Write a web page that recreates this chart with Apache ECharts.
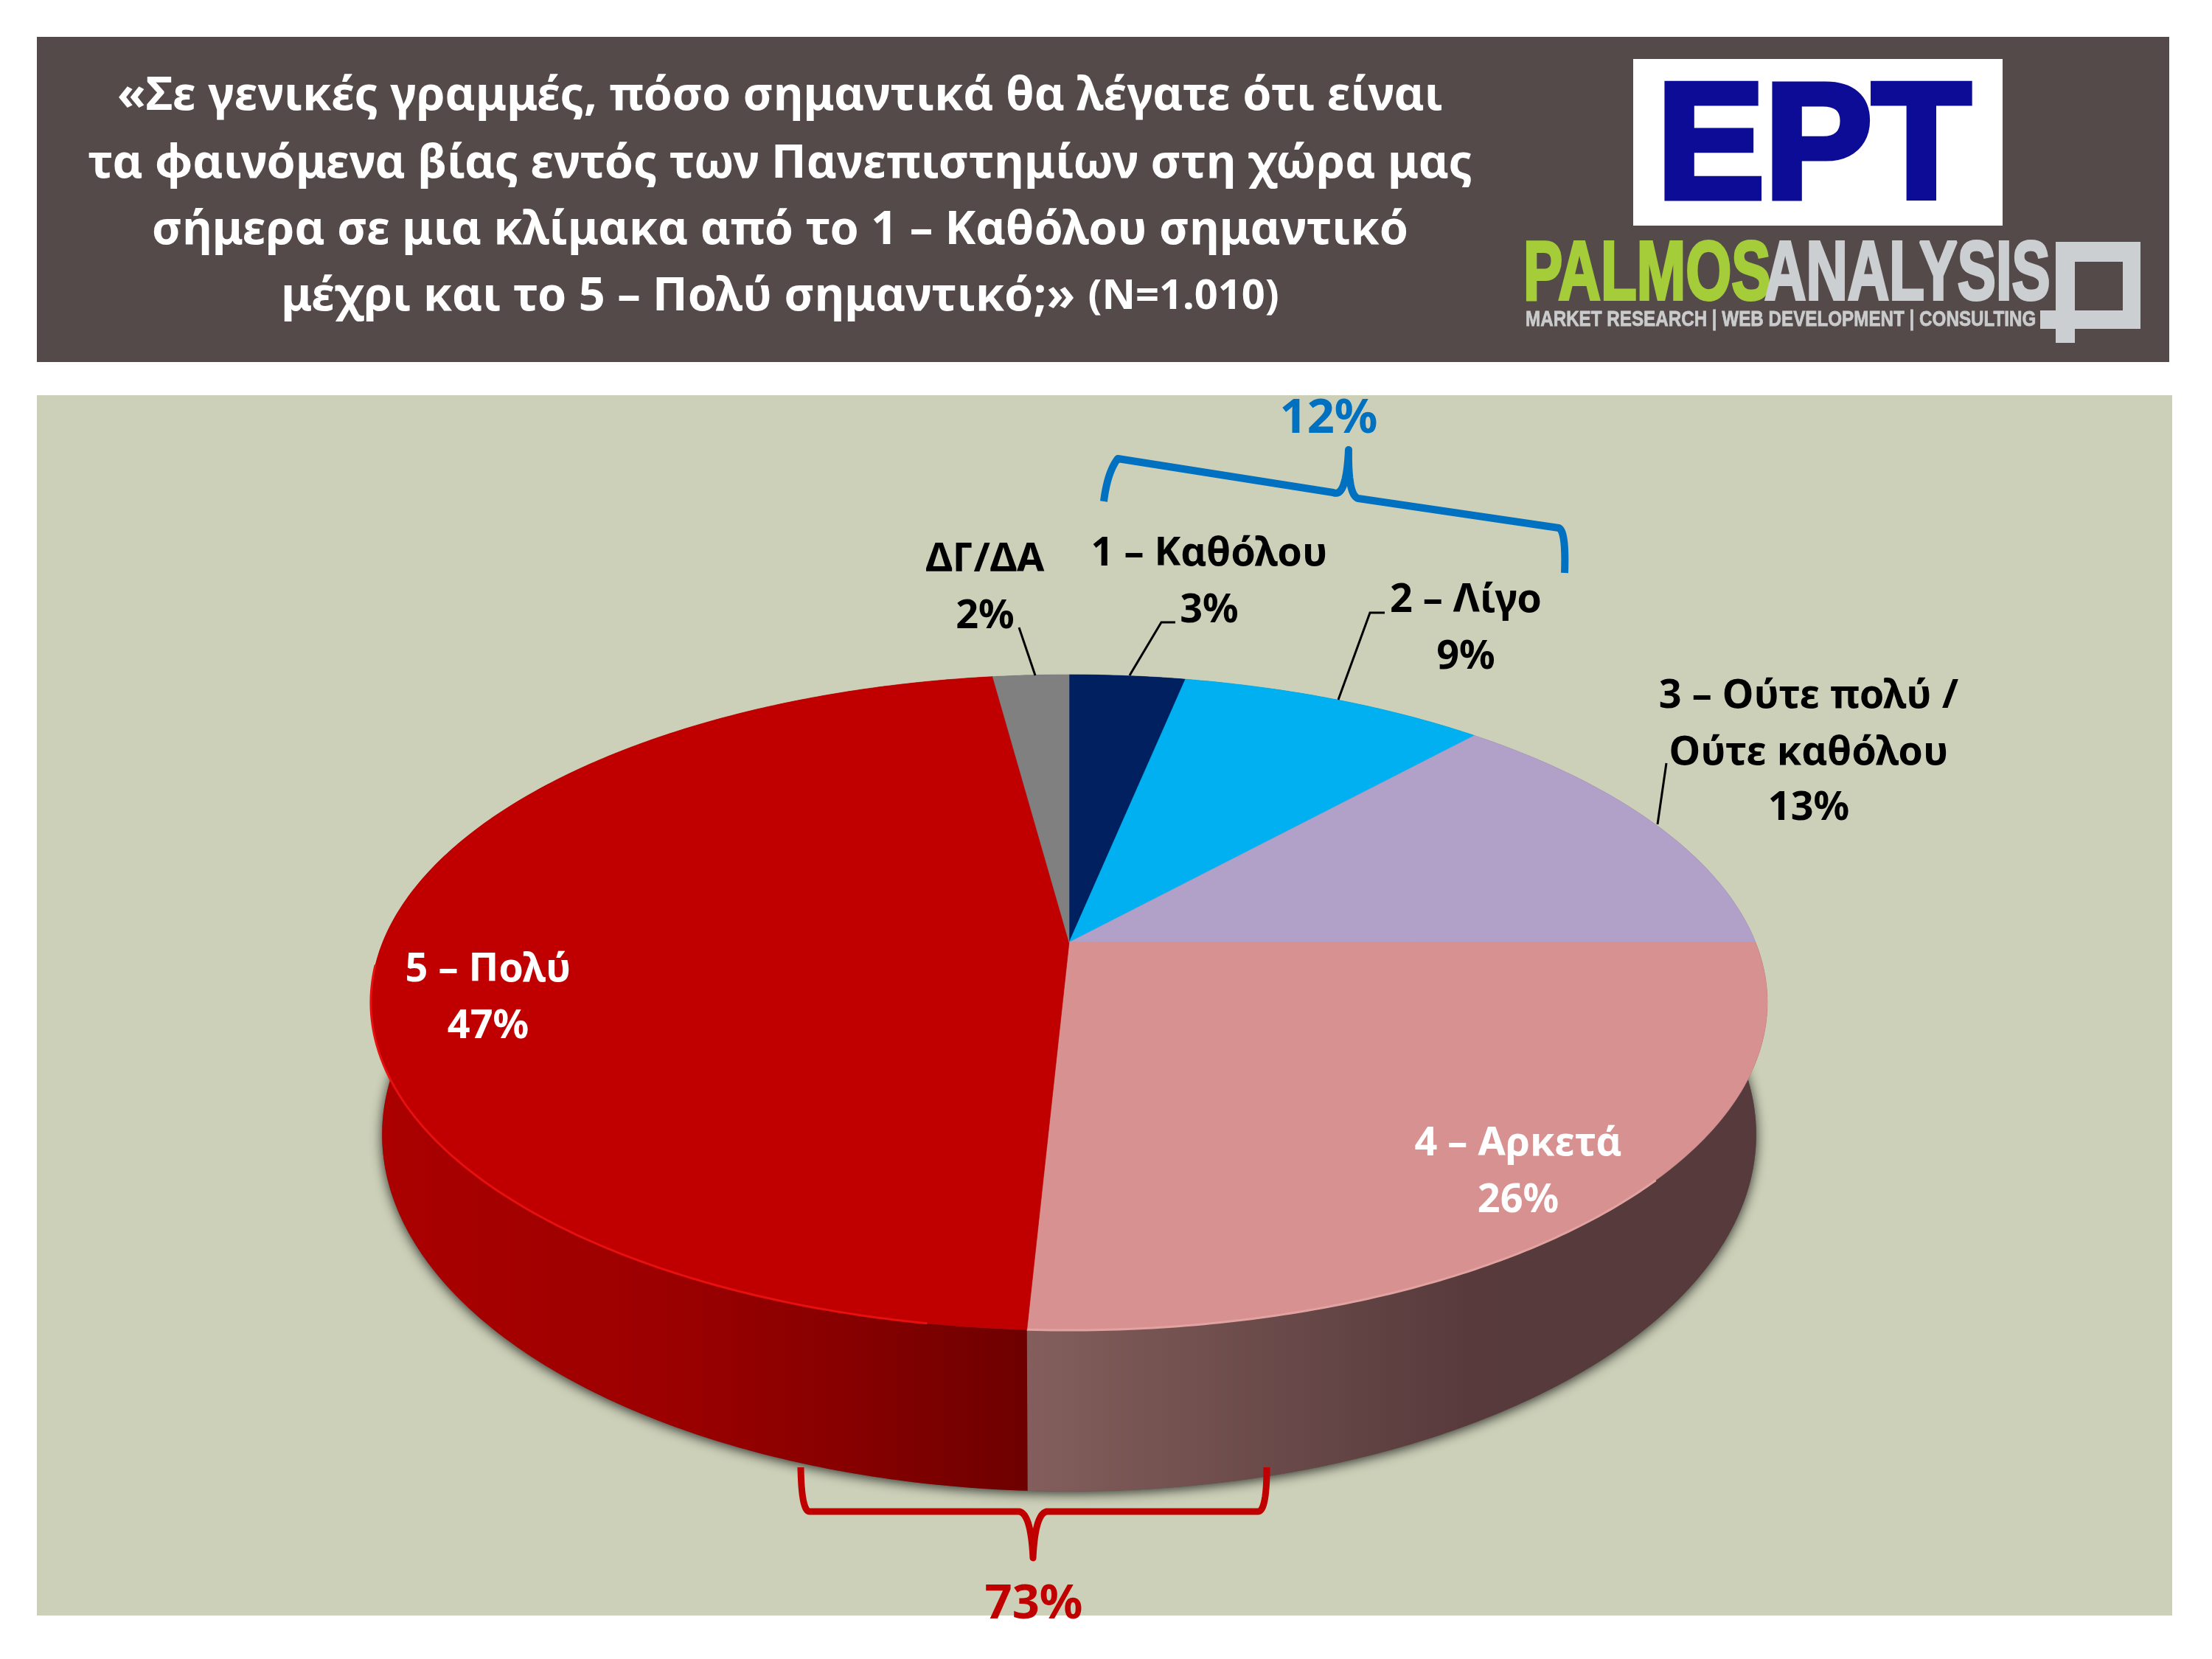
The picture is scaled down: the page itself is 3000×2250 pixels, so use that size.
<!DOCTYPE html>
<html><head><meta charset="utf-8">
<style>html,body{margin:0;padding:0;background:#fff}#c{width:3000px;height:2250px}</style>
<script src="https://cdn.jsdelivr.net/npm/echarts@6/dist/echarts.min.js"></script>
</head><body><div id="c"></div>
<script>
// ---- data ----
const categories = ['1 – Καθόλου','2 – Λίγο','3 – Ούτε πολύ /\nΟύτε καθόλου','4 – Αρκετά','5 – Πολύ','ΔΓ/ΔΑ'];
const values = [3.2, 8.5, 13.3, 25.8, 47.1, 2.1];
const titleLines = ['«Σε γενικές γραμμές, πόσο σημαντικά θα λέγατε ότι είναι','τα φαινόμενα βίας εντός των Πανεπιστημίων στη χώρα μας','σήμερα σε μια κλίμακα από το 1 – Καθόλου σημαντικό','μέχρι και το 5 – Πολύ σημαντικό;»'];
const sampleNote = '(N=1.010)';
const groupLabels = ['12%','73%'];

// ---- styling and layout ----
const FONT = '"Noto Sans","Open Sans",sans-serif';
const topColors = ['#002060','#00B0F0','#B1A0C7','#D79190','#C00000','#808080'];
const sideStops = [
  ['#001030','#001030'],['#005f80','#005f80'],['#5d5068','#5d5068'],
  [[0,'#835e5c'],[0.3,'#6c4c4b'],[0.6,'#583a3c'],[1,'#573a3c']],
  [[0,'#ab0000'],[0.45,'#9c0000'],[0.75,'#850000'],[1,'#6e0000']],
  ['#404040','#404040']
];
const labelAt = [[1640,752,'#000'],[1988,815,'#000'],[2453,945,'#000'],[2059,1552,'#fff'],[662,1316,'#fff'],[1336,760,'#000']];
const labelLines = [
  [[1594,844],[1575,844],[1532,916]],
  [[1878,831],[1858,831],[1815,949]],
  [[2260,1035],[2248,1118]],
  [[1382,851],[1404,916]]
];
const K = 0.1834;
const TOP = {cx:1450, cy:1278, A:931, B:429.6};
const BOT = {cx:1450, cy:1450, A:916, B:467.7};
const LH = 75;

function proj(theta, r){
  const s = Math.sin(theta), c = Math.cos(theta), w = 1 + K*c;
  return [r.cx + r.A*s/w, r.cy - r.B*c/w];
}
function arc(t0, t1, r){
  const n = Math.max(2, Math.ceil(Math.abs(t1-t0)/0.01)), p = [];
  for(let i=0;i<=n;i++) p.push(proj(t0+(t1-t0)*i/n, r));
  return p;
}
const total = values.reduce((a,b)=>a+b,0);
function range(i, api){
  let sum = 0;
  for(let j=0;j<i;j++) sum += values[j];
  const v = api.value(0);
  return [sum/total*2*Math.PI, (sum+v)/total*2*Math.PI];
}
function tx(text,x,y,size,fill,extra){
  return Object.assign({type:'text',style:Object.assign({text,x,y,fill,fontSize:size,fontWeight:'bold',fontFamily:FONT,
    align:'center',verticalAlign:'middle',textAlign:'center',textVerticalAlign:'middle'},extra||{})});
}
function quad(pts){ // sample a path of [p0, ctrl, p1] quadratics / straight [p0,p1] segments
  const out=[];
  pts.forEach(seg=>{
    if(seg.length===2){out.push(seg[0],seg[1]);return;}
    for(let i=0;i<=24;i++){const t=i/24,u=1-t;
      out.push([u*u*seg[0][0]+2*u*t*seg[1][0]+t*t*seg[2][0],u*u*seg[0][1]+2*u*t*seg[1][1]+t*t*seg[2][1]]);}
  });
  return out;
}
function sideFill(i){
  const s = sideStops[i];
  if(typeof s[0]==='string') return s[0];
  return {type:'linear',x:0,y:0,x2:1,y2:0,colorStops:s.map(d=>({offset:d[0],color:d[1]}))};
}
function renderSide(params, api){
  const i = params.dataIndex, [a,b] = range(i, api);
  const children = [];
  if(i===0){
    children.push({type:'polygon',shape:{points:arc(0,2*Math.PI,BOT)},
      style:{fill:'#555',shadowColor:'rgba(0,0,0,0.75)',shadowBlur:16,shadowOffsetY:3}});
  }
  children.push({type:'polygon',shape:{points:arc(a,b,TOP).concat(arc(b,a,BOT))},style:{fill:sideFill(i),stroke:null}});
  return {type:'group',children};
}
function renderTop(params, api){
  const i = params.dataIndex, [a,b] = range(i, api);
  const children = [{type:'polygon',shape:{points:[[TOP.cx,TOP.cy]].concat(arc(a,b,TOP))},style:{fill:topColors[i],stroke:topColors[i],lineWidth:0.6}}];
  if(i===4) children.push({type:'polyline',shape:{points:arc(a+0.12,a+1.45,TOP)},style:{stroke:'#e6100f',lineWidth:3,fill:null}});
  if(i===3) children.push({type:'polyline',shape:{points:arc(b-0.9,b,TOP)},style:{stroke:'#e2a3a1',lineWidth:3,fill:null}});
  const p = labelAt[i], parts = categories[i].split('\n').concat([Math.round(api.value(0))+'%']);
  parts.forEach((t,n)=>children.push(tx(t,p[0],p[1]+n*LH+ (n?2:0),54,p[2])));
  return {type:'group',children};
}

const g = [];
g.push({type:'rect',z:-10,shape:{x:50,y:50,width:2892,height:441},style:{fill:'#544A49'}});
g.push({type:'rect',z:-10,shape:{x:50,y:536,width:2896,height:1655},style:{fill:'#CCD0B8'}});
const titleY=[131,223,313,403];
titleLines.forEach((t,i)=>{
  if(i<3) g.push(Object.assign(tx(t,1058,titleY[i],63,'#fff'),{z:5}));
});
g.push(Object.assign({type:'text',z:5,style:{x:1058,y:titleY[3],text:'{a|'+titleLines[3]+'} {b|'+sampleNote+'}',fill:'#fff',
  align:'center',verticalAlign:'middle',textAlign:'center',textVerticalAlign:'middle',
  rich:{a:{fontSize:63,fontWeight:'bold',fontFamily:FONT,fill:'#fff'},b:{fontSize:56,fontWeight:'bold',fontFamily:FONT,fill:'#fff',padding:[0,0,0,14]}}}}));
// logos
g.push({type:'rect',z:5,shape:{x:2215,y:80,width:501,height:226},style:{fill:'#fff'}});
g.push({type:'text',z:6,x:2460,y:207,scaleX:0.985,style:{text:'EPT',x:0,y:0,fill:'#0C0C96',stroke:'#0C0C96',lineWidth:9,fontSize:222,fontWeight:'bold',fontFamily:'"Liberation Sans"',align:'center',verticalAlign:'middle',textAlign:'center',textVerticalAlign:'middle'}});
g.push({type:'text',z:6,x:2066,y:375,scaleX:0.70,style:{text:'PALMOS',x:0,y:0,fill:'#A4CD39',stroke:'#A4CD39',lineWidth:4,fontSize:114,fontWeight:'bold',fontFamily:'"Liberation Sans"',align:'left',verticalAlign:'middle',textAlign:'left',textVerticalAlign:'middle'}});
g.push({type:'text',z:6,x:2393,y:375,scaleX:0.685,style:{text:'ANALYSIS',x:0,y:0,fill:'#CCCFD1',stroke:'#CCCFD1',lineWidth:4,fontSize:114,fontWeight:'bold',fontFamily:'"Liberation Sans"',align:'left',verticalAlign:'middle',textAlign:'left',textVerticalAlign:'middle'}});
g.push({type:'text',z:6,x:2069,y:434,scaleX:0.807,style:{text:'MARKET RESEARCH | WEB DEVELOPMENT | CONSULTING',x:0,y:0,fill:'#C9CBCC',stroke:'#C9CBCC',lineWidth:0.8,fontSize:30,fontWeight:'bold',fontFamily:'"Liberation Sans"',align:'left',verticalAlign:'middle',textAlign:'left',textVerticalAlign:'middle'}});
[[2788,328,115,27],[2788,328,26,118],[2879,328,24,118],[2767,421,136,25],[2788,446,26,19]].forEach(r=>
  g.push({type:'rect',z:6,shape:{x:r[0],y:r[1],width:r[2],height:r[3]},style:{fill:'#CCCFD1'}}));
// label leader lines
labelLines.forEach(l=>g.push({type:'polyline',z:60,shape:{points:l},style:{stroke:'#000',lineWidth:3,fill:null}}));
// brackets
const blue = quad([[[1497,680],[1502,640],[1516,622]],[[1516,622],[1808,668]],[[1808,668],[1826,676],[1829,610]],[[1829,610],[1828,672],[1842,676]],[[1842,676],[2114,716]],[[2114,716],[2124,720],[2122,777]]]);
const red = quad([[[1086,1990],[1087,2050],[1098,2050]],[[1098,2050],[1382,2050]],[[1382,2050],[1398,2052],[1401,2113]],[[1401,2113],[1404,2052],[1420,2050]],[[1420,2050],[1706,2050]],[[1706,2050],[1718,2050],[1718,1990]]]);
g.push({type:'polyline',z:60,shape:{points:blue},style:{stroke:'#0070C0',lineWidth:10,fill:null,lineJoin:'round'}});
g.push({type:'polyline',z:60,shape:{points:red},style:{stroke:'#C00000',lineWidth:9,fill:null,lineJoin:'round'}});
g.push(Object.assign(tx(groupLabels[0],1802,568,65,'#0070C0'),{z:60}));
g.push(Object.assign(tx(groupLabels[1],1402,2176,65,'#C00000'),{z:60}));

const chart = echarts.init(document.getElementById('c'),null,{renderer:'canvas',width:3000,height:2250});
chart.setOption({
  animation:false,
  backgroundColor:'#fff',
  graphic:{elements:g},
  series:[
    {type:'custom',name:'side',coordinateSystem:'none',z:2,renderItem:renderSide,data:values.map(v=>[v]),silent:true},
    {type:'custom',name:'top',coordinateSystem:'none',z:3,renderItem:renderTop,data:values.map(v=>[v]),silent:true}
  ]
});
</script></body></html>
